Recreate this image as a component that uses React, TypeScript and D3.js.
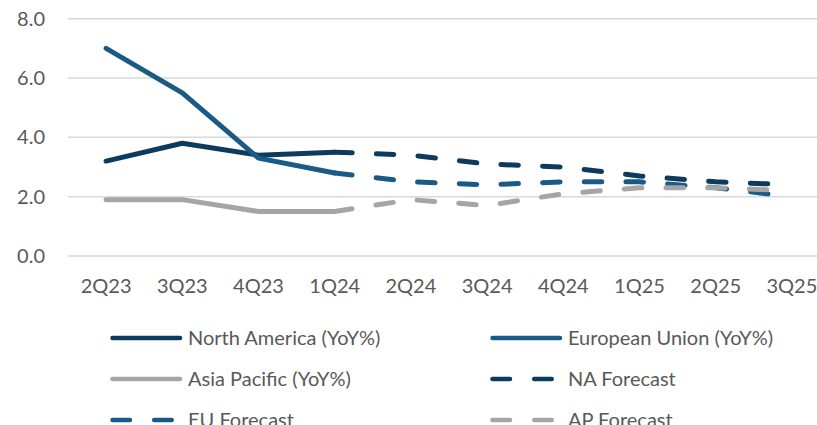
import React from 'react';
import * as d3 from 'd3';

const quarters = ['2Q23', '3Q23', '4Q23', '1Q24', '2Q24', '3Q24', '4Q24', '1Q25', '2Q25', '3Q25'];

// actuals run to 1Q24, forecasts pick up from 1Q24
const northAmerica = [3.2, 3.8, 3.4, 3.5, null, null, null, null, null, null];
const europeanUnion = [7.0, 5.5, 3.3, 2.8, null, null, null, null, null, null];
const asiaPacific = [1.9, 1.9, 1.5, 1.5, null, null, null, null, null, null];
const naForecast = [null, null, null, 3.5, 3.4, 3.1, 3.0, 2.7, 2.5, 2.4];
const euForecast = [null, null, null, 2.8, 2.5, 2.4, 2.5, 2.5, 2.3, 2.0];
const apForecast = [null, null, null, 1.5, 1.9, 1.7, 2.1, 2.3, 2.3, 2.2];

const yTicks = [0, 2, 4, 6, 8];

const NAVY = '#0c3b5e';
const BLUE = '#1a5a87';
const GREY = '#a5a5a5';
const DASH = '17.5 24.2';

const series = [
  { name: 'North America (YoY%)', values: northAmerica, color: NAVY, dashed: false },
  { name: 'European Union (YoY%)', values: europeanUnion, color: BLUE, dashed: false },
  { name: 'Asia Pacific (YoY%)', values: asiaPacific, color: GREY, dashed: false },
  { name: 'NA Forecast', values: naForecast, color: NAVY, dashed: true },
  { name: 'EU Forecast', values: euForecast, color: BLUE, dashed: true },
  { name: 'AP Forecast', values: apForecast, color: GREY, dashed: true },
];

const width = 817;
const height = 425;

export default function App() {
  const x = d3.scaleBand().domain(quarters).range([68, 830]).paddingInner(0);
  const y = d3.scaleLinear().domain([0, 8]).range([256, 18.7]);
  const cx = (q: string) => (x(q) as number) + x.bandwidth() / 2;

  const line = d3.line<number | null>()
    .defined(d => d != null)
    .x((_, i) => cx(quarters[i]))
    .y(d => y(d as number));

  const font = 'Lato, "Open Sans", sans-serif';
  const legendCols = [110, 490];
  const legendRows = [338, 379, 420];

  return (
    <svg width={width} height={height} style={{ position: 'absolute', left: 0, top: 0 }} fontFamily={font}>
      <defs>
        {/* trims the stray dash stub that would start right at the last point */}
        <clipPath id="plot-clip">
          <rect x={0} y={0} width={cx(quarters[quarters.length - 1]) - 12} height={height} />
        </clipPath>
      </defs>
      <rect width={width} height={height} fill="#ffffff" />
      <g>
        {yTicks.map(t => (
          <g key={t}>
            <line x1={68} x2={834} y1={y(t)} y2={y(t)} stroke="#d9d9d9" strokeWidth={1.5} />
            <text x={45} y={y(t)} dy="0.35em" textAnchor="end" fontSize={20} fill="#595959">
              {d3.format('.1f')(t)}
            </text>
          </g>
        ))}
      </g>
      <g>
        {quarters.map(q => (
          <text key={q} x={cx(q)} y={293} textAnchor="middle" fontSize={20} fill="#595959">{q}</text>
        ))}
      </g>
      <g fill="none" strokeLinecap="round" strokeLinejoin="round" clipPath="url(#plot-clip)">
        {series.map(s => (
          <path key={s.name} d={line(s.values) ?? ''} stroke={s.color} strokeWidth={5}
            strokeDasharray={s.dashed ? DASH : undefined} />
        ))}
      </g>
      <g>
        {series.map((s, i) => {
          const lx = legendCols[i % 2];
          const ly = legendRows[Math.floor(i / 2)];
          return (
            <g key={s.name} transform={`translate(${lx},${ly})`}>
              <line x1={2.5} x2={70} y1={0} y2={0} stroke={s.color} strokeWidth={4.5}
                strokeLinecap="round" strokeDasharray={s.dashed ? DASH : undefined} />
              <text x={78} y={0} dy="0.35em" fontSize={20} fill="#595959">{s.name}</text>
            </g>
          );
        })}
      </g>
    </svg>
  );
}
